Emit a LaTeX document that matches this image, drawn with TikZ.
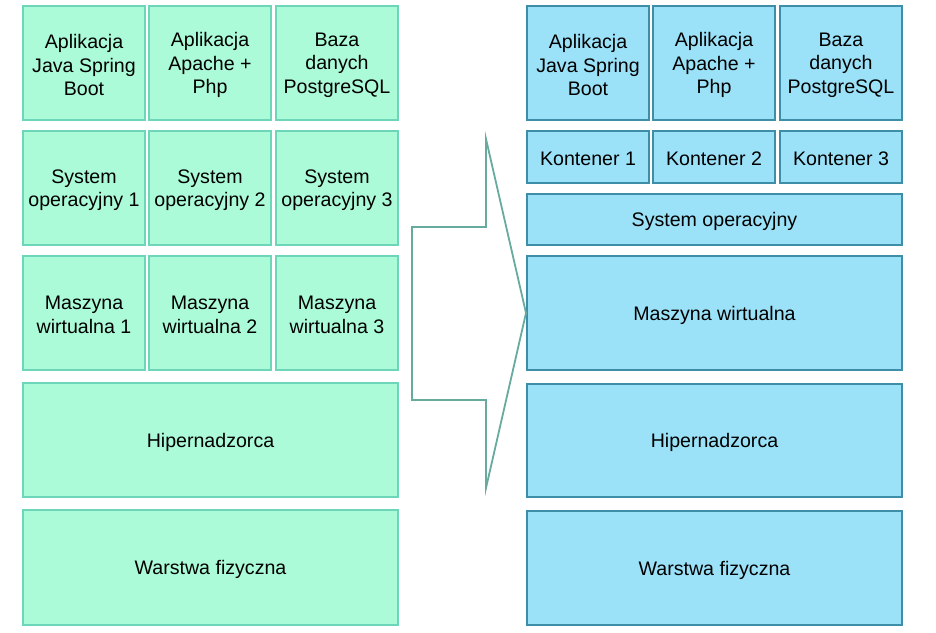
\documentclass[tikz,border=0pt]{standalone}
\usepackage{fontspec}
\setmainfont{Liberation Sans}
\definecolor{gfill}{HTML}{ABFBD8}
\definecolor{gline}{HTML}{6DD5B8}
\definecolor{bfill}{HTML}{9BE2F9}
\definecolor{bline}{HTML}{3E8EA8}
\definecolor{aline}{HTML}{67AB9F}
\begin{document}
\begin{tikzpicture}[x=1pt,y=-1pt,
  every node/.style={font=\fontsize{19.6}{23.5}\selectfont, align=center, inner sep=0pt, yshift=-2pt},
  gbox/.style={fill=gfill, draw=gline, line width=2pt},
  bbox/.style={fill=bfill, draw=bline, line width=2pt}]
\useasboundingbox (0,0) rectangle (936,632);
% left
\newcommand{\gb}[6]{\draw[gbox] (#2,#3) rectangle (#4,#5) node[midway] (#1) {#6};}
\newcommand{\bb}[6]{\draw[bbox] (#2,#3) rectangle (#4,#5) node[midway] (#1) {#6};}
\gb{la1}{23}{6}{145}{120}{Aplikacja\\Java Spring\\Boot}
\gb{la2}{149}{6}{271}{120}{Aplikacja\\Apache +\\Php}
\gb{la3}{276}{6}{398}{120}{Baza\\danych\\PostgreSQL}
\gb{ls1}{23}{131}{145}{245}{System\\operacyjny 1}
\gb{ls2}{149}{131}{271}{245}{System\\operacyjny 2}
\gb{ls3}{276}{131}{398}{245}{System\\operacyjny 3}
\gb{lm1}{23}{256}{145}{370}{Maszyna\\wirtualna 1}
\gb{lm2}{149}{256}{271}{370}{Maszyna\\wirtualna 2}
\gb{lm3}{276}{256}{398}{370}{Maszyna\\wirtualna 3}
\gb{lh}{23}{383}{398}{497}{Hipernadzorca}
\gb{lw}{23}{510}{398}{625}{Warstwa fizyczna}
% right
\bb{ra1}{527}{6}{649}{120}{Aplikacja\\Java Spring\\Boot}
\bb{ra2}{653}{6}{775}{120}{Aplikacja\\Apache +\\Php}
\bb{ra3}{780}{6}{902}{120}{Baza\\danych\\PostgreSQL}
\bb{rk1}{527}{131}{649}{183}{Kontener 1}
\bb{rk2}{653}{131}{775}{183}{Kontener 2}
\bb{rk3}{780}{131}{902}{183}{Kontener 3}
\bb{rs}{527}{194}{902}{245}{System operacyjny}
\bb{rm}{527}{256}{902}{370}{Maszyna wirtualna}
\bb{rh}{527}{384}{902}{497}{Hipernadzorca}
\bb{rw}{527}{511}{902}{625}{Warstwa fizyczna}
% arrow
\draw[aline, line width=1.8pt, line join=miter] (412,227) -- (486,227) -- (486,139) -- (526,313) -- (486,488) -- (486,400) -- (412,400) -- cycle;
\end{tikzpicture}
\end{document}
